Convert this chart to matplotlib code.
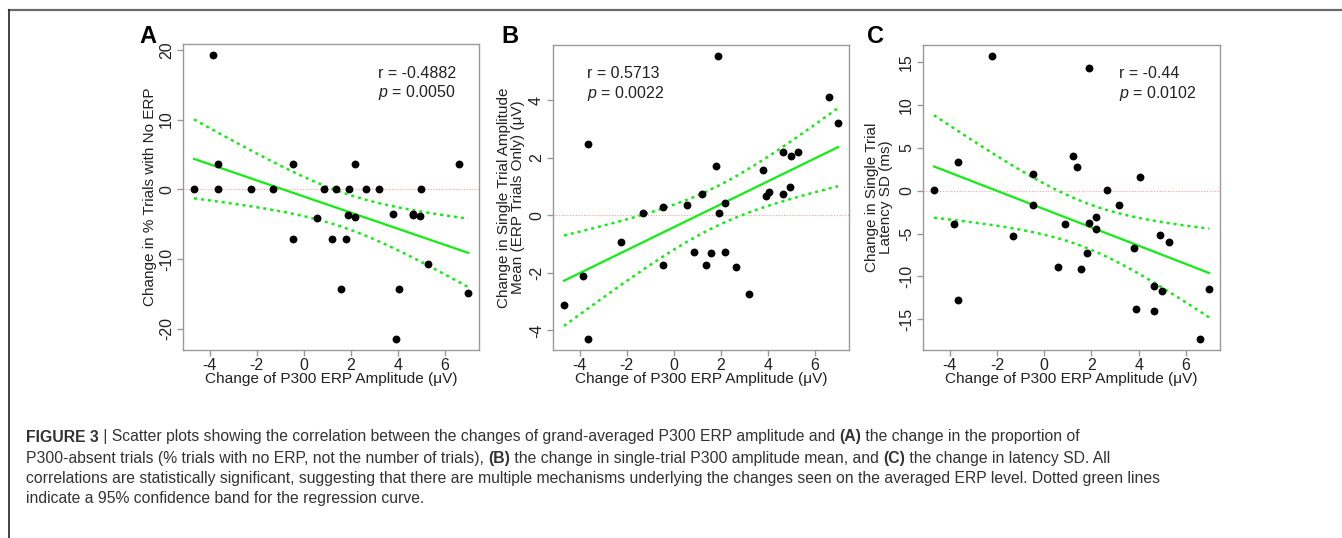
import numpy as np
import matplotlib
matplotlib.use("Agg")
import matplotlib.pyplot as plt

plt.rcParams['font.family'] = ['Liberation Sans', 'DejaVu Sans']
plt.rcParams['mathtext.fontset'] = 'custom'
plt.rcParams['mathtext.rm'] = 'Liberation Sans'
plt.rcParams['mathtext.it'] = 'Liberation Sans:italic'
plt.rcParams['axes.unicode_minus'] = False

# change of grand-averaged P300 ERP amplitude (uV), same for all panels
erp_change = [-4.67, -3.84, -3.65, -3.65, -2.23, -1.33, -0.46, -0.48, 0.57, 0.86,
              1.21, 1.37, 1.57, 1.80, 1.89, 1.91, 2.18, 2.19, 2.66, 3.18,
              3.79, 3.90, 4.04, 4.64, 4.64, 4.92, 4.98, 5.28, 6.58, 6.98]

# panel A: change in % trials with no ERP
no_erp = [0.0, 19.2, 3.6, 0.0, 0.0, 0.0, 3.6, -7.1, -4.1, 0.0,
          -7.1, 0.0, -14.3, -7.1, -3.7, 0.0, 3.6, -4.0, 0.0, 0.0,
          -3.6, -21.4, -14.3, -3.7, -3.6, -3.8, 0.0, -10.7, 3.6, -14.8]

# panel B: change in single trial amplitude mean (uV)
amp_mean = [-3.13, -2.12, 2.46, -4.29, -0.93, 0.08, 0.30, -1.74, 0.37, -1.29,
            0.74, -1.72, -1.31, 1.70, 5.52, 0.08, 0.41, -1.29, -1.80, -2.74,
            1.57, 0.65, 0.79, 2.21, 0.74, 0.99, 2.04, 2.20, 4.10, 3.20]

# panel C: change in single trial latency SD (ms)
lat_sd = [0.1, -3.85, 3.3, -12.75, 15.66, -5.25, 1.98, -1.63, -8.86, -3.85,
          4.04, 2.72, -9.13, -7.23, 14.3, -3.81, -3.11, -4.43, 0.1, -1.63,
          -6.68, -13.76, 1.63, -11.12, -14.07, -5.17, -11.74, -6.02, -17.26, -11.47]

panel_letters = ['A', 'B', 'C']
y_labels = ['Change in % Trials with No ERP',
            'Change in Single Trial Amplitude\nMean (ERP Trials Only) (\u03bcV)',
            'Change in Single Trial\nLatency SD (ms)']
r_texts = ['r = -0.4882', 'r = 0.5713', 'r = -0.44']
p_texts = ['0.0050', '0.0022', '0.0102']
y_ticks = [[-20, -10, 0, 10, 20], [-4, -2, 0, 2, 4], [-15, -10, -5, 0, 5, 10, 15]]
x_ticks = [-4, -2, 0, 2, 4, 6]
x_label = 'Change of P300 ERP Amplitude (\u03bcV)'

T_CRIT = 2.048  # t(0.975, df=28)

W, H = 1342, 538
fig = plt.figure(figsize=(W / 100, H / 100), dpi=100)

# axes boxes in pixels: left, right, top, bottom
boxes = [(183, 479, 44, 350), (553, 849, 45, 350), (923, 1220, 45, 350)]
letter_x = [148, 510, 875]
ylabel_x = [-0.112, -0.142, -0.148]
text_x = [0.659, 0.115, 0.66]

GRAY = '#999999'
DARK = '#222222'
GREEN = '#11ee11'


def rlim(v):
    lo, hi = min(v), max(v)
    pad = 0.04 * (hi - lo)
    return lo - pad, hi + pad


def fit_band(x, y):
    x = np.asarray(x)
    y = np.asarray(y)
    n = len(x)
    b, a = np.polyfit(x, y, 1)
    resid = y - (a + b * x)
    s = np.sqrt(np.sum(resid ** 2) / (n - 2))
    sxx = np.sum((x - x.mean()) ** 2)
    xs = np.linspace(x.min(), x.max(), 100)
    yhat = a + b * xs
    se = s * np.sqrt(1.0 / n + (xs - x.mean()) ** 2 / sxx)
    return xs, yhat, yhat - T_CRIT * se, yhat + T_CRIT * se


for i, yvals in enumerate([no_erp, amp_mean, lat_sd]):
    l, r, t, b = boxes[i]
    ax = fig.add_axes([l / W, 1 - b / H, (r - l) / W, (b - t) / H])
    ax.set_xlim(*rlim(erp_change))
    ax.set_ylim(*rlim(yvals))

    ax.axhline(0, color='#ff9f9f', lw=0.8, ls=(0, (1, 1.5)), zorder=1)
    xs, yhat, lo, hi = fit_band(erp_change, yvals)
    ax.plot(xs, yhat, color=GREEN, lw=1.6, zorder=2)
    ax.plot(xs, lo, color=GREEN, lw=1.8, ls=(0, (1.2, 1.6)), zorder=2)
    ax.plot(xs, hi, color=GREEN, lw=1.8, ls=(0, (1.2, 1.6)), zorder=2)
    ax.scatter(erp_change, yvals, s=32, color='black', zorder=3, linewidths=0)

    for sp in ax.spines.values():
        sp.set_color(GRAY)
        sp.set_linewidth(1.0)
    ax.set_xticks(x_ticks)
    ax.set_yticks(y_ticks[i])
    ax.set_yticklabels([str(v) for v in y_ticks[i]], rotation=90, va='center')
    ax.tick_params(axis='both', colors=GRAY, labelcolor=DARK, labelsize=11.5,
                   length=4, width=1.0, direction='out')
    ax.tick_params(axis='x', pad=1.5)
    ax.tick_params(axis='y', pad=2.5)

    ax.set_xlabel(x_label, fontsize=11.1, color=DARK)
    ax.xaxis.set_label_coords(0.5, -0.094)
    ax.xaxis.label.set_va('center')
    ax.set_ylabel(y_labels[i], fontsize=11, color=DARK, linespacing=1.05)
    ax.yaxis.set_label_coords(ylabel_x[i], 0.5)
    ax.yaxis.label.set_va('center')

    ax.text(text_x[i], 0.905, r_texts[i], transform=ax.transAxes, fontsize=11.5,
            color=DARK, va='center', ha='left')
    ax.text(text_x[i], 0.840, r'$\it{p}$ = ' + p_texts[i], transform=ax.transAxes,
            fontsize=11.5, color=DARK, va='center', ha='left')

    fig.text(letter_x[i] / W, 1 - 37 / H, panel_letters[i], fontsize=17,
             fontweight='bold', color='black', ha='center', va='center')

# frame lines of the figure page
fig.add_artist(plt.Line2D([9 / W, 1], [1 - 10 / H, 1 - 10 / H], color='#6a6a6a', lw=1.6))
fig.add_artist(plt.Line2D([9 / W, 9 / W], [0, 1 - 10 / H], color='#222222', lw=1.2))

# caption, with bold pieces
caption = [
    [("FIGURE 3", True), (" | Scatter plots showing the correlation between the changes of grand-averaged "
                          "P300 ERP amplitude and ", False), ("(A)", True),
     (" the change in the proportion of", False)],
    [("P300-absent trials (% trials with no ERP, not the number of trials), ", False), ("(B)", True),
     (" the change in single-trial P300 amplitude mean, and ", False), ("(C)", True),
     (" the change in latency SD. All", False)],
    [("correlations are statistically significant, suggesting that there are multiple mechanisms "
      "underlying the changes seen on the averaged ERP level. Dotted green lines", False)],
    [("indicate a 95% confidence band for the regression curve.", False)],
]
cap_y = [437, 458, 478, 499]
renderer = fig.canvas.get_renderer()
for line, yy in zip(caption, cap_y):
    x = 26
    for txt, bold in line:
        t = fig.text(x / W, 1 - yy / H, txt, fontsize=11.3,
                     fontweight='bold' if bold else 'normal', color='#333333',
                     ha='left', va='center')
        x += t.get_window_extent(renderer).width

fig.savefig('out.png', dpi=100)
